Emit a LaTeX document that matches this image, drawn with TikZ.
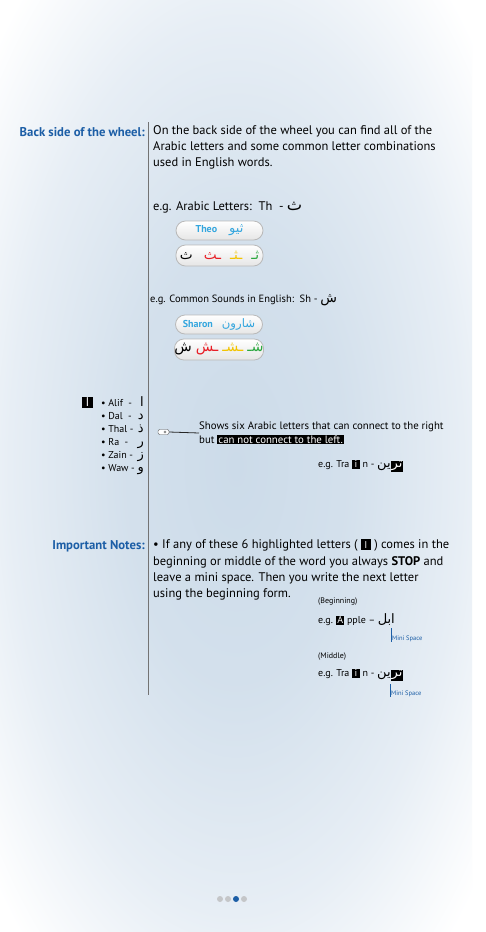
\documentclass[tikz,border=0pt]{standalone}
\usepackage{fontspec}
\setmainfont{PT Sans}
\newfontfamily\arabicfont[Script=Arabic,Scale=1.3]{DejaVu Sans}
\TeXXeTstate=1
\usetikzlibrary{positioning}
\definecolor{headblue}{RGB}{28,94,166}
\definecolor{skyblue}{RGB}{52,166,222}
\definecolor{bgc}{RGB}{204,219,233}
\definecolor{bgmid}{RGB}{231,238,245}
\definecolor{sred}{RGB}{232,30,38}
\definecolor{syellow}{RGB}{242,196,0}
\definecolor{sgreen}{RGB}{44,168,64}
\definecolor{dotgray}{RGB}{196,198,200}
\newcommand{\ar}[1]{{\arabicfont\beginR #1\endR}}
\newcommand{\hl}[1]{{\setlength{\fboxsep}{1pt}\colorbox{black}{\color{white}#1}}}
\newcommand{\alifbox}{{\setlength{\fboxsep}{0pt}\colorbox{black}{\makebox[10pt]{\rule[-1pt]{0pt}{10.5pt}\color{white}\fontsize{7}{8}\selectfont\ar{ا}}}}}
\pgfdeclareradialshading{pagebg}{\pgfpoint{0bp}{0bp}}{color(0bp)=(bgc); color(12bp)=(bgc!85!white); color(24bp)=(bgmid); color(34bp)=(white); color(50bp)=(white)}
\begin{document}
\begin{tikzpicture}[x=1pt,y=-1pt,
    txt/.style={anchor=west,inner sep=0pt,align=left,font=\fontsize{12.5}{16.3}\selectfont},
    small/.style={anchor=west,inner sep=0pt,align=left,font=\fontsize{10.5}{14}\selectfont},
    head/.style={anchor=east,inner sep=0pt,font=\fontsize{12.7}{14}\selectfont\bfseries,text=headblue},
    pill/.style={draw=gray!55,line width=0.8pt,rounded corners=9.5pt,top color=white,bottom color=gray!20,
        minimum width=87pt,minimum height=19pt,inner sep=0pt},
    tiny/.style={anchor=west,inner sep=0pt,font=\fontsize{6.5}{8}\selectfont,text=headblue}]
    % background
    \useasboundingbox (0,0) rectangle (485,932);
    \fill[white] (0,0) rectangle (485,932);
    \shade[shading=pagebg] (0,0) rectangle (472,932);
    \draw[gray!90!black,line width=0.8pt] (148,122) -- (148,695);
    % back side of the wheel
    \node[head] (back) at (145,132) {Back side of the wheel:};
    \node[txt,anchor=north west] (intro) at (153,125) {On the back side of the wheel you can find all of the\\
        Arabic letters and some common letter combinations\\ used in English words.};
    \node[txt] (egar) at (153,207) {e.g. Arabic Letters:\ \ Th\ \ - \ar{ث}};
    \node[pill] (theo) at (219.5,230.5) {\color{skyblue}\fontsize{10}{12}\selectfont\bfseries Theo\hspace{12pt}{\mdseries\ar{ثيو}}};
    \node[pill,minimum height=21pt] (thforms) at (219.5,255.5) {\fontsize{10.5}{12}\selectfont
        \ar{ث}\hspace{11pt}{\color{sred}\ar{ـث}}\hspace{9pt}{\color{syellow}\ar{ـثـ}}\hspace{9pt}{\color{sgreen}\ar{ثـ}}};
    \node[small] (egsh) at (150,300) {e.g. Common Sounds in English:\ \ Sh - \ar{ش}};
    \node[pill] (sharon) at (219,324.5) {\color{skyblue}\fontsize{10}{12}\selectfont\bfseries Sharon\hspace{9pt}{\mdseries\fontsize{9}{12}\selectfont\ar{شارون}}};
    \node[pill,minimum height=21pt] (shforms) at (219,349.5) {\fontsize{11}{14}\selectfont
        \ar{ش}\hspace{4pt}{\color{sred}\ar{ـش}}\hspace{4pt}{\color{syellow}\ar{ـشـ}}\hspace{4pt}{\color{sgreen}\ar{شـ}}};
    % six letters
    \node[fill=black,text=white,minimum size=11pt,inner sep=0pt,font=\fontsize{9}{10}\selectfont] (icon) at (87.5,402.5) {\ar{ا}};
    \node[anchor=north west,inner sep=0pt,font=\fontsize{10}{13}\selectfont] (six) at (101,396)
        {\begin{tabular}{@{}l@{\ }r@{}}
        \textbullet\ Alif\ \ - & \ar{ا}\\
        \textbullet\ Dal\ \ - & \ar{د}\\
        \textbullet\ Thal - & \ar{ذ}\\
        \textbullet\ Ra\ \ - & \ar{ر}\\
        \textbullet\ Zain - & \ar{ز}\\
        \textbullet\ Waw - & \ar{و}
        \end{tabular}};
    \node[draw=gray!70!black,fill=white,rounded corners=2pt,minimum width=11pt,minimum height=5pt,inner sep=0pt] (hand) at (163.5,432) {};
    \node[draw=gray!70!black,circle,inner sep=0.8pt] (knuckle) at (165,432) {};
    \node[anchor=west,inner sep=0pt,align=left,font=\fontsize{10.8}{14}\selectfont] (shows) at (199,433)
        {Shows six Arabic letters that can connect to the right\\ but \hl{can not connect to the left.}};
    \draw[gray!30!black,line width=0.8pt] (hand.east) -- (shows.west);
    \node[small,font=\fontsize{10}{14}\selectfont] (egtrain) at (318,466) {e.g. Tra \hl{\,i\,} n - \ar{ين}\hl{\ar{تر}}};
    % important notes
    \node[head] (notes) at (145,546) {Important Notes:};
    \node[txt,anchor=north west] (rule) at (153,539) {\textbullet\ If any of these 6 highlighted letters ( \alifbox\ ) comes in the\\
        beginning or middle of the word you always \textbf{STOP} and\\
        leave a mini space. Then you write the next letter\\ using the beginning form.};
    \node[anchor=west,inner sep=0pt,font=\fontsize{8}{10}\selectfont] (begin) at (318,602) {(Beginning)};
    \node[small,font=\fontsize{10}{14}\selectfont] (apple) at (318,620) {e.g. \hl{A} pple -- \ar{ابل}};
    \coordinate (gap1) at (391,628);
    \node[tiny] (mini1) at (392,639) {Mini Space};
    \draw[headblue,line width=0.6pt] (gap1) -- (gap1 |- mini1.south);
    \node[anchor=west,inner sep=0pt,font=\fontsize{8}{10}\selectfont] (middle) at (318,657) {(Middle)};
    \node[small,font=\fontsize{10}{14}\selectfont] (train) at (318,675) {e.g. Tra \hl{\,i\,} n - \ar{ين}\hl{\ar{تر}}};
    \coordinate (gap2) at (390,684);
    \node[tiny] (mini2) at (391,694) {Mini Space};
    \draw[headblue,line width=0.6pt] (gap2) -- (gap2 |- mini2.south);
    % page dots
    \fill[dotgray] (220,899) circle (3);
    \fill[dotgray] (228,899) circle (3);
    \fill[headblue] (236,899) circle (3);
    \fill[dotgray] (244,899) circle (3);
\end{tikzpicture}
\end{document}
